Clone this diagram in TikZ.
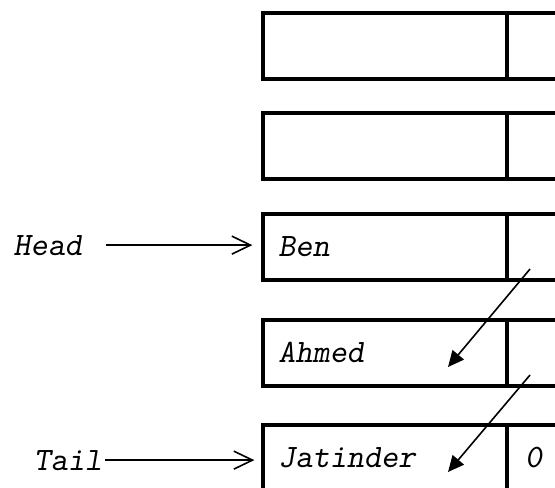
\documentclass[tikz,border=0pt]{standalone}
\usepackage{fontspec}
\usetikzlibrary{arrows.meta,positioning}

\newcommand{\listfont}{\fontsize{24.5pt}{28pt}\selectfont\ttfamily\slshape}

\tikzset{every picture/.style={line width=0.75pt}}
\tikzset{
  cell/.style={draw, line width=3pt, outer sep=0pt, minimum height=49.5pt, inner ysep=0pt, font=\listfont},
  datacell/.style={cell, text width=160pt, inner xsep=11.5pt, minimum width=183pt, align=left},
  ptrcell/.style={cell, anchor=west, text width=60pt, inner xsep=13.5pt, align=left},
  tag/.style={inner sep=0.75pt, font=\listfont},
  ptr/.style={line width=1.2pt, -{Straight Barb[length=14pt,width=13.5pt]}},
  link/.style={line width=1.2pt, -{Triangle[length=12pt,width=11pt]}},
}

\begin{document}
\begin{tikzpicture}[x=0.75pt,y=0.75pt,yscale=-1,xscale=1]
    \clip (0,0) rectangle (555,487);

    % list cells: data part and pointer part
    \node[datacell] (d1) at (385,46) {};
    \node[ptrcell] (p1) at (d1.east) {};
    \node[datacell] (d2) at (385,146) {};
    \node[ptrcell] (p2) at (d2.east) {};
    \node[datacell] (d3) at (385,247) {Ben};
    \node[ptrcell] (p3) at (d3.east) {};
    \node[datacell] (d4) at (385,352.5) {Ahmed};
    \node[ptrcell] (p4) at (d4.east) {};
    \node[datacell] (d5) at (385,458) {Jatinder};
    \node[ptrcell] (p5) at (d5.east) {0};

    % Head and Tail
    \node[tag, anchor=base west] (head) at (12,255) {Head};
    \node[tag, anchor=base west] (tail) at (32,470) {Tail};
    \draw[ptr, shorten <=17pt, shorten >=8pt] (head.east) -- (head.east -| d3.west);
    \draw[ptr, shorten <=1pt, shorten >=6.5pt] (tail.east) -- (tail.east -| d5.west);

    % next pointers
    \coordinate (n3) at (530,269);
    \coordinate (a4) at (448,367);
    \coordinate (n4) at (530,375);
    \coordinate (a5) at (448,472);
    \draw[link] (n3) -- (a4);
    \draw[link] (n4) -- (a5);

\end{tikzpicture}
\end{document}
